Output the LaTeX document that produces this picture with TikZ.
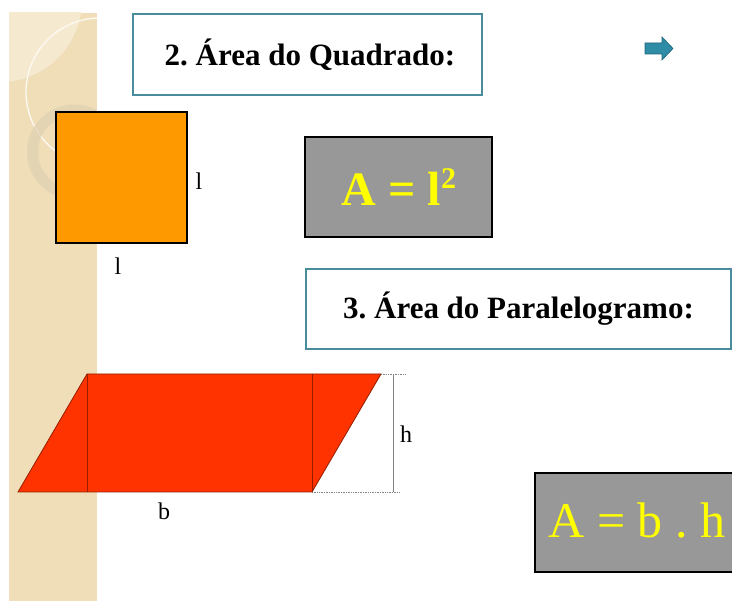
\documentclass[tikz,border=0pt]{standalone}
\usepackage{fontspec}
\setmainfont{Liberation Serif}
\frenchspacing
\definecolor{stripbg}{RGB}{240,222,184}
\definecolor{striplight}{RGB}{245,233,208}
\definecolor{ringcol}{RGB}{222,208,178}
\definecolor{teal}{RGB}{74,140,155}
\definecolor{arrowfill}{RGB}{46,140,166}
\definecolor{arrowedge}{RGB}{32,100,120}
\definecolor{boxgray}{RGB}{152,152,152}
\definecolor{sqorange}{RGB}{255,153,0}
\definecolor{parred}{RGB}{255,51,0}
\definecolor{paredge}{RGB}{150,30,0}
\definecolor{dimgray}{RGB}{130,130,130}
\definecolor{formyellow}{RGB}{255,255,0}
\tikzset{
  titlebox/.style={draw=teal, line width=2pt, fill=white, inner sep=0pt},
  titletext/.style={font=\fontsize{31}{31}\selectfont\bfseries, text=black},
  formbox/.style={draw=black, line width=2pt, fill=boxgray},
  formtext/.style={text=formyellow},
  lbl/.style={font=\fontsize{24}{24}\selectfont, text=black, inner sep=0pt},
}
\begin{document}
\begin{tikzpicture}[x=1pt,y=-1pt]
\clip (0,0) rectangle (732,601);
\fill[white] (0,0) rectangle (732,601);
% decorative strip
\begin{scope}
  \clip (9,13) rectangle (97,601);
  \fill[stripbg] (9,13) rectangle (97,601);
  \fill[striplight] (0,0) circle[radius=82];
  \draw[white!85!stripbg, line width=1.3pt] (100,92) circle[radius=74];
  \fill[ringcol, opacity=0.7, even odd rule] (74.5,152) circle[radius=47.5] (74.5,152) circle[radius=36.5];
\end{scope}
% title 1
\node[titlebox, minimum width=349pt, minimum height=81pt] (t1) at (307.5,54.5) {};
\node[titletext] (t1text) at (310,54.5) {2. Área do Quadrado:};
% arrow
\draw[fill=arrowfill, draw=arrowedge, line width=0.6pt]
  (645,43) -- (662,43) -- (662,37) -- (673,48.5) -- (662,60) -- (662,54) -- (645,54) -- cycle;
% square
\node[draw=black, line width=2pt, fill=sqorange, minimum width=131pt, minimum height=131pt, inner sep=0pt] (sq) at (121.5,177.5) {};
\node[lbl] (lr) at (199,181) {l};
\node[lbl] (lb) at (118,266) {l};
% formula 1
\node[formbox, minimum width=187pt, minimum height=100pt, inner sep=0pt] (f1) at (398.5,187) {};
\node[formtext, font=\fontsize{48}{48}\selectfont\bfseries] (f1text) at (399,187) {A = l\raisebox{0.36em}{\fontsize{30}{30}\selectfont 2}};
% title 2
\node[titlebox, minimum width=425pt, minimum height=80pt] (t2) at (518.5,309) {};
\node[titletext] (t2text) at (t2.center) {3. Área do Paralelogramo:};
% parallelogram
\coordinate (pbl) at (18,492);
\coordinate (pbr) at (312,492);
\coordinate (ptl) at (87,374);
\coordinate (ptr) at (381,374);
\coordinate (vbl) at (87,492);
\coordinate (vtr) at (312,374);
\fill[parred] (pbl) -- (pbr) -- (ptr) -- (ptl) -- cycle;
\draw[paredge, line width=0.8pt] (pbl) -- (pbr) -- (ptr) -- (ptl) -- cycle;
\draw[paredge, line width=0.8pt] (ptl) -- (vbl);
\draw[paredge, line width=0.8pt] (vtr) -- (pbr);
% dimension h
\coordinate (dt) at (393,374);
\coordinate (db) at (393,492);
\coordinate (dte) at (405,374);
\coordinate (dbe) at (400,492);
\draw[dimgray, line width=0.8pt] (dt) -- (db);
\draw[dimgray, line width=0.7pt, densely dotted] (ptr) -- (dte);
\draw[dimgray, line width=0.7pt, densely dotted] (pbr) -- (dbe);
\node[lbl] (hl) at (406,434) {h};
\node[lbl] (bl) at (164,511) {b};
% formula 2
\node[formbox, minimum width=220pt, minimum height=99pt, inner sep=0pt] (f2) at (645,522.5) {};
\node[formtext, font=\fontsize{50}{50}\selectfont] (f2text) at (637,521) {A = b . h};
\end{tikzpicture}
\end{document}
